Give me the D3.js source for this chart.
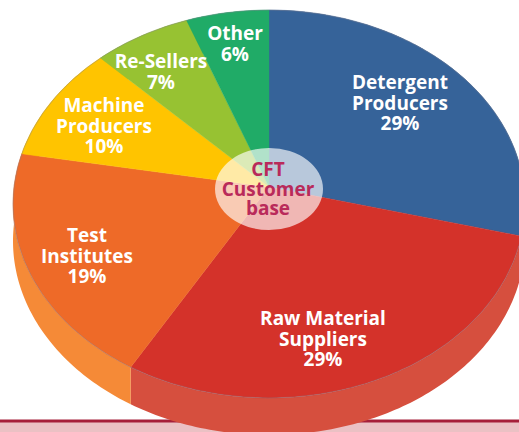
<!DOCTYPE html>
<html>
<head>
<meta charset="utf-8">
<script src="https://cdn.jsdelivr.net/npm/d3@7"></script>
<style>
  html, body { margin: 0; padding: 0; background: #fff; overflow: hidden; }
  svg { display: block; }
  text { font-family: "Open Sans", sans-serif; font-weight: 700; text-anchor: middle; }
</style>
</head>
<body>
<svg id="chart" width="519" height="432"></svg>
<script>
// slices, clockwise from 12 o'clock
const categories = ["Detergent Producers", "Raw Material Suppliers", "Test Institutes", "Machine Producers", "Re-Sellers", "Other"];
const shares = [29, 29, 19, 10, 7, 6];
const labelLines = [
  ["Detergent", "Producers"],
  ["Raw Material", "Suppliers"],
  ["Test", "Institutes"],
  ["Machine", "Producers"],
  ["Re-Sellers"],
  ["Other"]
];
const centerLines = ["CFT", "Customer", "base"];

const topColors = ["#366399", "#d4322a", "#ee6a28", "#ffc400", "#97c232", "#20ab67"];
const sideColors = ["#366399", "#d64f3e", "#f58a37", "#ffc400", "#97c232", "#20ab67"];
// top line of each label block
const labelAnchors = [[400, 89], [323, 325], [87, 242], [104, 112], [161, 68], [235, 40]];

const svg = d3.select("#chart");
const W = 519, H = 432;

// tilted disc: the rim is an ellipse, slices meet at an apex above its centre
const cx = 269, cy = 204, rx = 256, ry = 194, apexY = 187, depth = 37;
// the left half of the disc is pulled round a little by the tilt
const leftSkew = 0.05;

function rimPoint(angle) {
  const a = angle > Math.PI ? angle - leftSkew * Math.sin(angle) : angle;
  const dx = Math.sin(a) * rx, dy = -Math.cos(a) * ry;
  const off = apexY - cy;
  const A = dx * dx / (rx * rx) + dy * dy / (ry * ry);
  const B = 2 * dy * off / (ry * ry);
  const C = off * off / (ry * ry) - 1;
  const t = (-B + Math.sqrt(B * B - 4 * A * C)) / (2 * A);
  return [cx + dx * t, apexY + dy * t];
}

const pie = d3.pie().sort(null).value(d => d);
const arcs = pie(shares);
const line = d3.line();

function rim(d) {
  const n = Math.max(2, Math.ceil((d.endAngle - d.startAngle) * 60));
  return d3.range(n + 1).map(i => rimPoint(d.startAngle + (d.endAngle - d.startAngle) * i / n));
}

// footer band behind the disc
svg.append("rect").attr("x", 0).attr("y", 420).attr("width", W).attr("height", 12).attr("fill", "#ebc1c4");
svg.append("rect").attr("x", 0).attr("y", 419.5).attr("width", W).attr("height", 3).attr("fill", "#a6203a");

// side wall
svg.selectAll("path.side")
  .data(arcs)
  .join("path")
  .attr("class", "side")
  .attr("fill", (d, i) => sideColors[i])
  .attr("d", d => {
    const pts = rim(d);
    const lower = pts.map(p => [p[0], p[1] + depth]).reverse();
    return line(pts.concat(lower)) + "Z";
  });

// top face
svg.selectAll("path.slice")
  .data(arcs)
  .join("path")
  .attr("class", "slice")
  .attr("fill", (d, i) => topColors[i])
  .attr("stroke", (d, i) => topColors[i])
  .attr("stroke-width", 0.4)
  .attr("d", d => line([[cx, apexY]].concat(rim(d))) + "Z");

// thin grey rim line
svg.append("ellipse")
  .attr("cx", cx).attr("cy", cy).attr("rx", rx).attr("ry", ry)
  .attr("fill", "none").attr("stroke", "#7f7f8f").attr("stroke-opacity", 0.6).attr("stroke-width", 0.7);

// slice labels
categories.forEach((c, i) => {
  const lines = labelLines[i].concat([shares[i] + "%"]);
  const g = svg.append("text").attr("fill", "#fff").attr("font-size", 19);
  lines.forEach((t, j) => {
    g.append("tspan")
      .attr("x", labelAnchors[i][0])
      .attr("y", labelAnchors[i][1] + j * 20.5)
      .text(t);
  });
});

// centre badge
svg.append("ellipse")
  .attr("cx", cx).attr("cy", 189).attr("rx", 54).attr("ry", 41)
  .attr("fill", "#fff").attr("fill-opacity", 0.65);

const ct = svg.append("text").attr("fill", "#b92a5a").attr("font-size", 19);
centerLines.forEach((t, j) => {
  ct.append("tspan").attr("x", 268).attr("y", 176 + j * 19.5).text(t);
});
</script>
</body>
</html>
